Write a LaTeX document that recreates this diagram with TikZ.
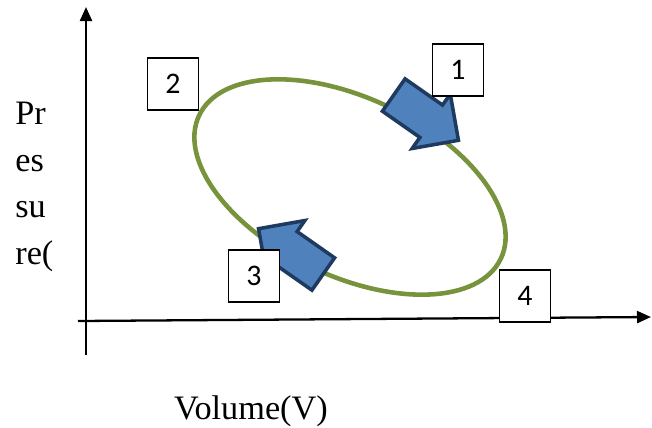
\documentclass[tikz,border=0pt]{standalone}
\usepackage{fontspec}
\setmainfont{Liberation Serif}
\newfontfamily\boxfont{Carlito}
\usetikzlibrary{arrows.meta,shapes.arrows}
\definecolor{loopgreen}{HTML}{77933C}
\definecolor{arrowblue}{HTML}{4F81BD}
\definecolor{arrowedge}{HTML}{1F3A5F}
\tikzset{
  axisline/.style={line width=1.3pt, -{Triangle[length=0.28cm,width=0.24cm]}},
  statebox/.style={draw, fill=white, line width=0.8pt, minimum width=1.02cm, minimum height=1.04cm, inner sep=0pt, font=\boxfont\fontsize{17}{20}\selectfont},
  flowarrow/.style={single arrow, draw=arrowedge, fill=arrowblue, line width=2pt, minimum height=1.58cm, inner sep=0.36cm, single arrow head extend=0.27cm}
}

\begin{document}
\begin{tikzpicture}[x=0.02cm, y=-0.02cm]
	%%%%% START %%%%%
	\useasboundingbox (0, 0) rectangle (652, 427);
	
	\coordinate (ybot) at (86, 355);
	\coordinate (ytop) at (86, 7);
	\coordinate (xleft) at (78, 321);
	\coordinate (xright) at (651, 317);
	\draw[axisline] (ybot) -- (ytop);
	\draw[axisline] (xleft) -- (xright);
	
	\coordinate (loop) at (350, 187);
	\draw[loopgreen, line width=2.6pt, rotate around={-25.4:(loop)}] (loop) ellipse [x radius=167, y radius=89];
	
	\node[flowarrow, rotate=-35] (flow1) at (418, 112) {};
	\node[flowarrow, rotate=145] (flow3) at (299, 257) {};
	
	\node[statebox] (s1) at (458, 70) {1};
	\node[statebox] (s2) at (173, 84) {2};
	\node[statebox] (s3) at (254, 276) {3};
	\node[statebox] (s4) at (525, 296) {4};
	
	\node[anchor=north west, align=left, inner sep=0pt, font=\fontsize{19.5}{26.5}\selectfont] (ylabel) at (15, 102) {Pr\\es\\su\\re(};
	\node[anchor=base, inner sep=0pt, font=\fontsize{19.5}{22}\selectfont] (xlabel) at (251, 419) {Volume(V)};
	%%%%% END %%%%%
\end{tikzpicture}
\end{document}
